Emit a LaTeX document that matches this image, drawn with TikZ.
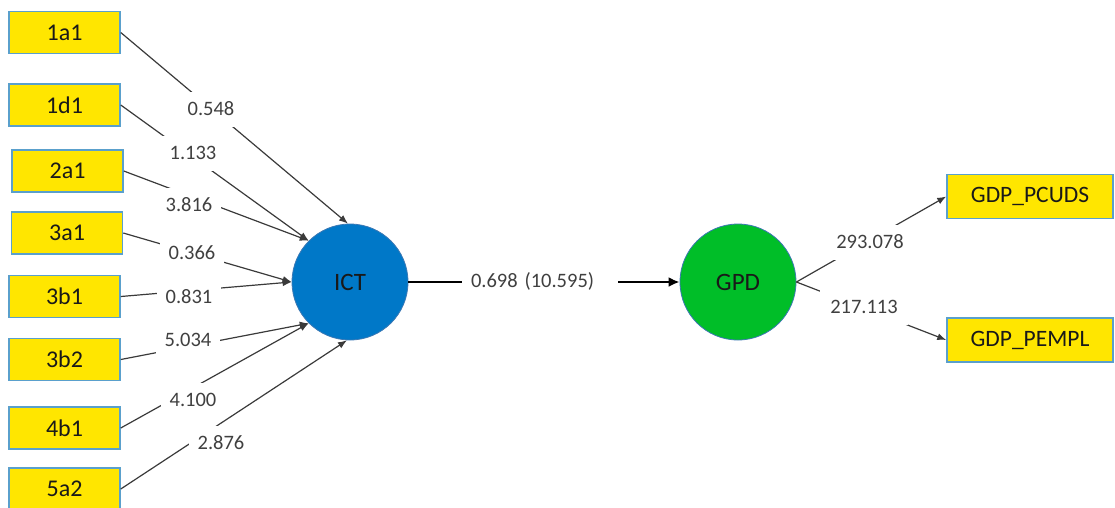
\documentclass[tikz,border=0pt]{standalone}
\usepackage{fontspec}
\setmainfont{Carlito}
\usetikzlibrary{arrows.meta}
\definecolor{boxfill}{HTML}{FFE600}
\definecolor{boxedge}{HTML}{5AA0CC}
\definecolor{ictblue}{HTML}{0078C8}
\definecolor{gpdgreen}{HTML}{00BE28}
\definecolor{circedge}{HTML}{3C78B4}
\definecolor{linegray}{HTML}{3A3A3A}
\definecolor{labeltext}{HTML}{404040}
\begin{document}
\begin{tikzpicture}[x=1pt,y=-1pt,
  indicator/.style={draw=boxedge, line width=1.5pt, fill=boxfill,
    minimum width=111pt, minimum height=42pt, inner sep=0pt,
    font=\fontsize{24}{28}\selectfont, text=black!90},
  outind/.style={indicator, minimum width=166pt, minimum height=44pt,
    font=\fontsize{23.5}{28}\selectfont},
  construct/.style={circle, draw=circedge, line width=0.8pt,
    minimum size=116pt, inner sep=0pt,
    font=\fontsize{25}{30}\selectfont, text=black!90},
  weight/.style={fill=white, inner sep=0pt, minimum width=64pt,
    minimum height=35pt, font=\fontsize{20.5}{24}\selectfont, text=labeltext},
  link/.style={draw=linegray, line width=1.2pt, -{Latex[length=9pt,width=7pt]}},
  mainlink/.style={draw=black, line width=2.6pt, -{Latex[length=11pt,width=10pt]}}
]
\useasboundingbox (0,0) rectangle (1115,507);

% indicator boxes of ICT
\node[indicator] (i1a1) at (64.5,32.5) {1a1};
\node[indicator] (i1d1) at (64.5,105) {1d1};
\node[indicator] (i2a1) at (67.5,171) {2a1};
\node[indicator] (i3a1) at (67,233) {3a1};
\node[indicator] (i3b1) at (64.5,296.5) {3b1};
\node[indicator] (i3b2) at (64.5,359.5) {3b2};
\node[indicator] (i4b1) at (64.5,428) {4b1};
\node[indicator] (i5a2) at (64.5,489) {5a2};

% constructs
\node[construct, fill=ictblue] (ict) at (350,282) {ICT};
\node[construct, fill=gpdgreen] (gpd) at (738,282) {GPD};

% indicator boxes of GPD
\node[outind] (pcuds) at (1030,196.5) {GDP\_PCUDS};
\node[outind] (pempl) at (1030,340) {GDP\_PEMPL};

% outer weights
\draw[link] (i1a1.east) -- (ict.92);
\draw[link] (i1d1.east) -- (ict.135);
\draw[link] (i2a1.east) -- (ict.135);
\draw[link] (i3a1.east) -- (ict.180);
\draw[link] (i3b1.east) -- (ict.180);
\draw[link] (i3b2.east) -- (ict.225);
\draw[link] (i4b1.east) -- (ict.225);
\draw[link] (i5a2.east) -- (ict.267);

% structural path
\draw[mainlink] (ict.east) -- (gpd.west);

% loadings
\draw[link] (gpd.east) -- (pcuds.west);
\draw[link] (gpd.east) -- (pempl.west);

% coefficient labels
\node[weight] (w1a1) at (211,109) {0.548};
\node[weight] (w1d1) at (193,153) {1.133};
\node[weight] (w2a1) at (189,205) {3.816};
\node[weight] (w3a1) at (192,253) {0.366};
\node[weight] (w3b1) at (189,297) {0.831};
\node[weight] (w3b2) at (188,340) {5.034};
\node[weight] (w4b1) at (193,400) {4.100};
\node[weight] (w5a2) at (221,443) {2.876};
\node[weight, minimum width=0pt, text width=156pt, align=left] (wict)
  at (540,281) {\hspace*{9pt}0.698 (10.595)};
\node[weight, minimum width=88pt] (wpcuds) at (870,242) {293.078};
\node[weight, minimum width=88pt] (wpempl) at (864,307) {217.113};
\end{tikzpicture}
\end{document}
